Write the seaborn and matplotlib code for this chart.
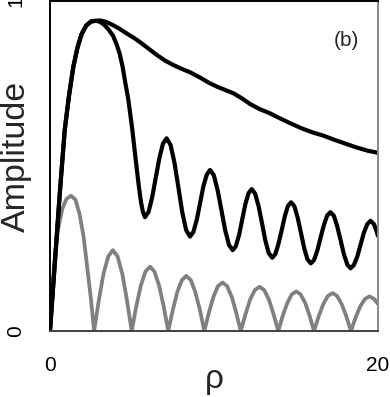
import numpy as np
import pandas as pd
import seaborn as sns
import matplotlib
matplotlib.use("Agg")
import matplotlib.pyplot as plt

# values
osc_x = [0, 0.3, 0.6, 0.9, 1.15, 1.42, 1.68, 1.93, 2.2, 2.5, 2.8,
         3.05, 3.3, 3.55, 3.84, 4.05, 4.25, 4.43, 4.6, 4.78, 5.02, 5.2, 5.4, 5.55, 5.67, 5.79,
         6.01, 6.23, 6.45, 6.67, 6.89, 7.11,
         7.35, 7.59, 7.83, 8.06, 8.30, 8.54,
         8.74, 8.95, 9.15, 9.35, 9.56, 9.76,
         9.99, 10.22, 10.45, 10.68, 10.91, 11.14,
         11.33, 11.53, 11.72, 11.91, 12.11, 12.3,
         12.51, 12.72, 12.93, 13.13, 13.34, 13.55,
         13.74, 13.93, 14.13, 14.32, 14.51, 14.7,
         14.9, 15.1, 15.3, 15.5, 15.7, 15.9,
         16.1, 16.3, 16.5, 16.7, 16.9, 17.1,
         17.31, 17.51, 17.72, 17.92, 18.13, 18.33,
         18.53, 18.74, 18.94, 19.14, 19.35, 19.55,
         19.75, 19.9, 20]
osc_y = [0, 0.21, 0.42, 0.61, 0.71, 0.80, 0.86, 0.90, 0.925, 0.938, 0.94,
         0.937, 0.928, 0.915, 0.895, 0.87, 0.84, 0.80, 0.75, 0.70, 0.61, 0.53, 0.445, 0.39, 0.36, 0.345,
         0.361, 0.405, 0.465, 0.524, 0.568, 0.584,
         0.564, 0.510, 0.435, 0.361, 0.306, 0.286,
         0.300, 0.337, 0.387, 0.438, 0.474, 0.488,
         0.472, 0.427, 0.367, 0.306, 0.261, 0.245,
         0.257, 0.291, 0.338, 0.384, 0.418, 0.43,
         0.416, 0.378, 0.326, 0.274, 0.236, 0.222,
         0.233, 0.264, 0.306, 0.348, 0.379, 0.39,
         0.378, 0.344, 0.298, 0.251, 0.217, 0.205,
         0.215, 0.244, 0.283, 0.321, 0.350, 0.36,
         0.349, 0.318, 0.275, 0.233, 0.201, 0.19,
         0.200, 0.226, 0.262, 0.298, 0.324, 0.334,
         0.324, 0.304, 0.288]

env_x = [0, 0.3, 0.6, 0.9, 1.15, 1.42, 1.68, 1.93, 2.2, 2.5, 2.8,
         3.05, 3.4, 3.8, 4.2, 4.6, 5.06, 5.5, 6.0, 6.5, 7.0, 7.52, 8.0, 8.54, 9.15,
         9.7, 10.2, 10.7, 11.2, 11.7, 12.2, 12.8, 13.4, 14.0, 14.63, 15.3, 16.0,
         16.67, 17.3, 18.0, 18.7, 19.4, 20]
env_y = [0, 0.21, 0.42, 0.61, 0.71, 0.80, 0.86, 0.90, 0.925, 0.938, 0.94,
         0.941, 0.937, 0.928, 0.917, 0.904, 0.89, 0.875, 0.856, 0.837, 0.82, 0.806, 0.795,
         0.784, 0.768, 0.752, 0.74, 0.73, 0.72, 0.705, 0.688, 0.672, 0.66, 0.645, 0.63,
         0.615, 0.602, 0.592, 0.58, 0.568, 0.556, 0.546, 0.54]

gray_x = [0, 0.15, 0.3, 0.5, 0.75, 1.0, 1.28, 1.55, 1.8, 2.05, 2.3, 2.5, 2.69,
          2.98, 3.26, 3.55, 3.83, 4.12, 4.41, 4.69, 4.98,
          5.26, 5.54, 5.82, 6.1, 6.37, 6.65, 6.93, 7.21,
          7.49, 7.76, 8.04, 8.31, 8.59, 8.86, 9.14, 9.41,
          9.69, 9.97, 10.24, 10.52, 10.8, 11.08, 11.35, 11.63,
          11.92, 12.2, 12.49, 12.78, 13.06, 13.35, 13.63, 13.92,
          14.19, 14.47, 14.74, 15.01, 15.28, 15.56, 15.83, 16.1,
          16.38, 16.66, 16.94, 17.23, 17.51, 17.79, 18.07, 18.35,
          18.63, 18.91, 19.2, 19.48, 19.76, 20]
gray_y = [0, 0.13, 0.23, 0.31, 0.37, 0.40, 0.41, 0.398, 0.355, 0.285, 0.18, 0.095, 0,
          0.094, 0.173, 0.226, 0.245, 0.226, 0.173, 0.094, 0,
          0.075, 0.138, 0.180, 0.195, 0.180, 0.138, 0.075, 0,
          0.064, 0.118, 0.154, 0.167, 0.154, 0.118, 0.064, 0,
          0.056, 0.104, 0.136, 0.147, 0.136, 0.104, 0.056, 0,
          0.051, 0.095, 0.124, 0.134, 0.124, 0.095, 0.051, 0,
          0.046, 0.085, 0.111, 0.12, 0.111, 0.085, 0.046, 0,
          0.044, 0.081, 0.106, 0.115, 0.106, 0.081, 0.044, 0,
          0.040, 0.074, 0.097, 0.105, 0.097, 0.082]

x_ticks = [0, 5, 10, 15, 20]
x_labels = ["0", "", "", "", "20"]
y_ticks = [0, 0.2, 0.4, 0.6, 0.8, 1.0]
y_labels = ["0", "", "", "", "", "1"]

sns.set_style("white")
plt.rcParams['font.family'] = ['Liberation Sans', 'DejaVu Sans']

fig = plt.figure(figsize=(3.9, 3.97), dpi=100)
ax = fig.add_axes([50 / 390, 1 - 331 / 397, 328 / 390, 330 / 397])

line_kw = dict(solid_joinstyle="round", solid_capstyle="round")
sns.lineplot(x=gray_x, y=gray_y, ax=ax, color="#808080", linewidth=2.7, **line_kw)
sns.lineplot(x=env_x, y=env_y, ax=ax, color="black", linewidth=3.0, **line_kw)
sns.lineplot(x=osc_x, y=osc_y, ax=ax, color="black", linewidth=3.0, **line_kw)

ax.set_xlim(0, 20)
ax.set_ylim(0, 1)
ax.set_xticks(x_ticks)
ax.set_xticklabels(x_labels)
ax.set_yticks(y_ticks)
ax.set_yticklabels(y_labels, rotation=90, va="center")
ax.tick_params(axis="both", direction="out", length=9, width=1.1, color="#333333",
               labelsize=15, pad=9, labelcolor="black")

ax.set_xlabel("ρ", fontsize=24, labelpad=-8)
ax.set_ylabel("Amplitude", fontsize=24.5)
ax.yaxis.set_label_coords(-0.055, 0.53)

ax.text(18.05, 0.88, "(b)", fontsize=15, ha="center", va="center")

for side in ["left", "top"]:
    ax.spines[side].set_color("black")
    ax.spines[side].set_linewidth(1.4)
ax.spines["bottom"].set_color("#404040")
ax.spines["bottom"].set_linewidth(1.4)
ax.spines["right"].set_color("#888888")
ax.spines["right"].set_linewidth(1.4)

fig.savefig("out.png", dpi=100)
